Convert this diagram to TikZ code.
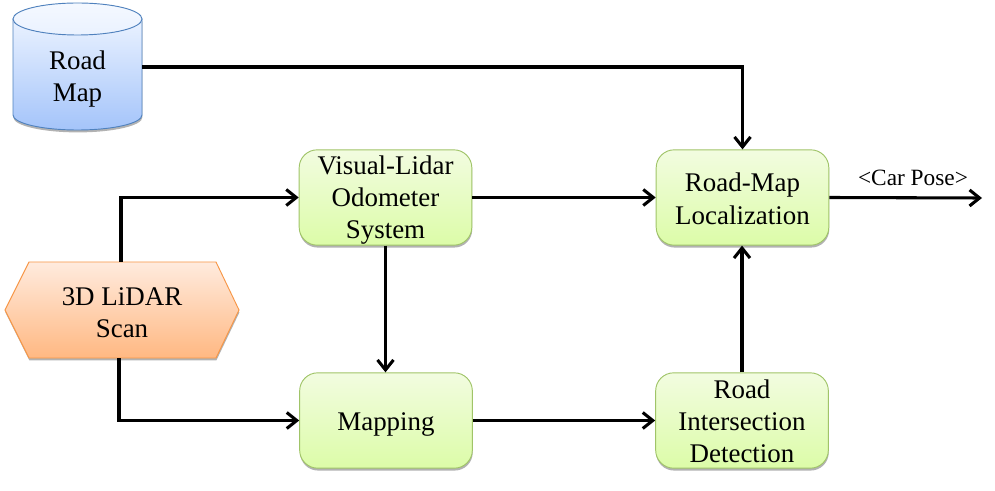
\documentclass[tikz,border=0pt]{standalone}
\usepackage{fontspec}
\setmainfont{Liberation Serif}
\usetikzlibrary{arrows.meta,shadows}
\definecolor{greentop}{RGB}{242,252,224}
\definecolor{greenbot}{RGB}{220,252,168}
\definecolor{greenline}{RGB}{160,196,104}
\definecolor{bluetop}{RGB}{234,242,255}
\definecolor{bluebot}{RGB}{164,196,250}
\definecolor{blueline}{RGB}{79,129,189}
\definecolor{orangetop}{RGB}{255,235,222}
\definecolor{orangebot}{RGB}{255,184,130}
\definecolor{orangeline}{RGB}{247,150,70}
\newcommand{\droptext}[1]{\rule{0pt}{\dimexpr 13.7pt+#1\relax}}
\tikzset{
    softshadow/.style={drop shadow={shadow xshift=0.3pt,shadow yshift=-1.8pt,opacity=0.3,fill=black}},
    blocktext/.style={align=center,font=\fontsize{20.2}{24.2}\selectfont,inner sep=0pt},
    procbox/.style={blocktext,rounded corners=13.5pt,draw=greenline,line width=0.7pt,top color=greentop,bottom color=greenbot,
        minimum width=129.5pt,minimum height=71.5pt,softshadow},
    scanshape/.style={draw=orangeline,line width=0.7pt,top color=orangetop,bottom color=orangebot,softshadow},
    mapshape/.style={draw=blueline,line width=0.7pt,top color=bluetop,bottom color=bluebot,softshadow},
    maplid/.style={draw=blueline,line width=0.7pt,top color=white!50!bluetop,bottom color=bluetop},
    link/.style={line width=2.3pt,-{Straight Barb[length=7.5pt,width=12pt,line width=2.3pt]}},
}
\begin{document}
\begin{tikzpicture}[x=0.75pt,y=0.75pt,yscale=-1,xscale=1]
    \useasboundingbox (0,0) rectangle (995,491);
    % Road map store
    \path [mapshape] (13,19) -- (13,115) arc [start angle=180,end angle=0,x radius=64.5,y radius=15] -- (142,19) -- cycle;
    \path [maplid] (77.5,19) ellipse (64.5 and 16);
    \node [blocktext,minimum width=96.75pt,minimum height=95.25pt] (map) at (77.5,67) {\droptext{18.8pt}Road\\Map};
    % Scan hexagon
    \path [scanshape] (29,262) -- (216,262) -- (239,310) -- (216,358) -- (29,358) -- (5,310) -- cycle;
    \node [blocktext,minimum width=175pt,minimum height=72pt] (scan) at (122,310) {\droptext{3.7pt}3D LiDAR\\Scan};
    % Blocks
    \node [procbox] (odom) at (385.5,197.5) {\droptext{4.5pt}Visual-Lidar\\Odometer\\System};
    \node [procbox] (loc) at (742.5,197.5) {\droptext{2.2pt}Road-Map\\Localization};
    \node [procbox] (mapping) at (386,420.5) {\droptext{6pt}Mapping};
    \node [procbox] (detect) at (742,420.5) {\droptext{1.5pt}Road\\Intersection\\Detection};
    \coordinate (poseend) at (982,198);
    % Connectors
    \draw [link] (map.east) -- (742.5,67) -- (loc.north);
    \draw [link] (121,262) -- (121,197.5) -- (odom.west);
    \draw [link] (119,358) -- (119,420.5) -- (mapping.west);
    \draw [link] (odom.east) -- (loc.west);
    \draw [link] (odom.south) -- (odom.south |- mapping.north);
    \draw [link] (mapping.east) -- (detect.west);
    \draw [link] (detect.north) -- (loc.south -| detect.north);
    \draw [link] (loc.east) -- (poseend);
    % Output label
    \node [font=\fontsize{17.5}{21}\selectfont] (pose) at (913,178) {<Car Pose>};
\end{tikzpicture}
\end{document}
